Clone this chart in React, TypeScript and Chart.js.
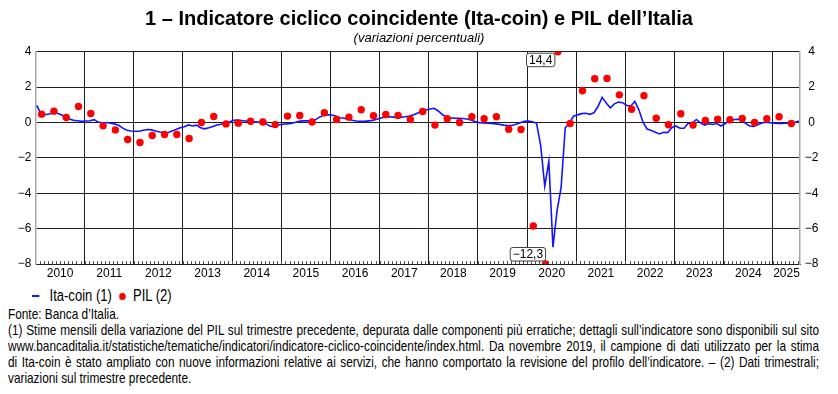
import React, { useEffect, useRef } from 'react';
import { Chart, registerables } from 'chart.js';

Chart.register(...registerables);

const FONT = '"Liberation Sans", Arial, sans-serif';
const NARROW_SCALE = 0.815;

const TITLE = '1 – Indicatore ciclico coincidente (Ita-coin) e PIL dell’Italia';
const SUBTITLE = '(variazioni percentuali)';
const SERIES_LABELS = ['Ita-coin (1)', 'PIL (2)'];
const NOTES = [
  'Fonte: Banca d’Italia.',
  '(1) Stime mensili della variazione del PIL sul trimestre precedente, depurata dalle componenti più erratiche; dettagli sull’indicatore sono disponibili sul sito',
  'www.bancaditalia.it/statistiche/tematiche/indicatori/indicatore-ciclico-coincidente/index.html. Da novembre 2019, il campione di dati utilizzato per la stima',
  'di Ita-coin è stato ampliato con nuove informazioni relative ai servizi, che hanno comportato la revisione del profilo dell’indicatore. – (2) Dati trimestrali;',
  'variazioni sul trimestre precedente.',
];

const START_YEAR = 2010;
const X_MIN = 2010;
const X_MAX = 2025.55;
const Y_MIN = -8;
const Y_MAX = 4;
const Y_STEP = 2;
const YEAR_LABELS = [2010, 2011, 2012, 2013, 2014, 2015, 2016, 2017, 2018, 2019, 2020, 2021, 2022, 2023, 2024, 2025];

// Ita-coin, monthly, from January 2010
const ITA_COIN = [
  0.96, 0.5, 0.44, 0.48, 0.52, 0.52, 0.43, 0.32, 0.2, 0.12, 0.1, 0.06, // 2010
  0.08, 0.1, 0.16, 0.02, -0.03, 0.0, -0.04, -0.08, -0.16, -0.32, -0.44, -0.48, // 2011
  -0.5, -0.5, -0.44, -0.4, -0.42, -0.48, -0.54, -0.58, -0.58, -0.48, -0.4, -0.3, // 2012
  -0.24, -0.14, -0.2, -0.15, -0.3, -0.36, -0.3, -0.23, -0.14, -0.1, -0.02, 0.03, // 2013
  0.12, 0.13, 0.11, 0.08, 0.05, 0.04, 0.02, 0.0, -0.08, -0.21, -0.24, -0.14, // 2014
  -0.1, -0.08, -0.05, 0.0, 0.06, 0.09, 0.09, 0.09, 0.15, 0.3, 0.4, 0.43, // 2015
  0.42, 0.36, 0.27, 0.24, 0.19, 0.13, 0.08, 0.06, 0.06, 0.09, 0.12, 0.18, // 2016
  0.25, 0.3, 0.32, 0.3, 0.28, 0.3, 0.32, 0.36, 0.43, 0.53, 0.63, 0.7, // 2017
  0.76, 0.8, 0.65, 0.45, 0.3, 0.26, 0.24, 0.23, 0.22, 0.2, 0.14, 0.05, // 2018
  -0.01, -0.03, -0.04, -0.06, -0.08, -0.11, -0.15, -0.18, -0.17, -0.1, -0.02, 0.06, // 2019
  0.08, 0.04, -0.05, -1.3, -3.6, -2.2, -7.05, -5.0, -3.65, -0.3, -0.05, 0.35, // 2020
  0.43, 0.5, 0.52, 0.46, 0.55, 0.9, 1.42, 1.1, 0.83, 1.05, 1.15, 1.12, // 2021
  0.96, 0.93, 1.19, 0.7, 0.0, -0.37, -0.46, -0.55, -0.65, -0.55, -0.57, -0.3, // 2022
  -0.2, -0.33, -0.33, -0.05, -0.05, 0.17, -0.02, -0.15, -0.07, -0.11, -0.06, -0.2, // 2023
  -0.07, 0.1, 0.15, 0.18, 0.17, -0.05, -0.2, -0.22, -0.13, -0.03, 0.01, -0.01, // 2024
  -0.04, -0.06, -0.06, -0.03, -0.05, 0.0, 0.08, // 2025
];

// PIL, quarterly, from 2010 Q1
const PIL = [
  0.47, 0.64, 0.28, 0.9, // 2010
  0.51, -0.19, -0.42, -0.96, // 2011
  -1.13, -0.74, -0.68, -0.68, // 2012
  -0.91, 0.0, 0.34, -0.08, // 2013
  -0.04, 0.07, 0.03, -0.12, // 2014
  0.36, 0.39, 0.03, 0.55, // 2015
  0.17, 0.3, 0.72, 0.38, // 2016
  0.45, 0.4, 0.17, 0.62, // 2017
  -0.15, 0.21, 0.0, 0.32, // 2018
  0.21, 0.32, -0.38, -0.4, // 2019
  -5.85, -12.3, 14.4, -0.06, // 2020
  1.79, 2.47, 2.49, 1.56, // 2021
  0.75, 1.51, 0.24, -0.13, // 2022
  0.49, -0.15, 0.11, 0.19, // 2023
  0.15, 0.23, 0.0, 0.21, // 2024
  0.32, -0.06, // 2025
];

const BLUE = '#1414ff';
const RED = '#ff0000';
const GRID = '#1e1e1e';
const EDGE = '#a8a8a8';

const monthX = (i: number) => START_YEAR + (i + 0.3) / 12;
const quarterX = (i: number) => START_YEAR + (3 * i + 1.5) / 12;
const clampY = (v: number) => Math.max(Y_MIN, Math.min(Y_MAX, v));
const fmtNum = (v: number) => v.toFixed(1).replace('.', ',').replace('-', '\u2212');
const fmtTick = (v: number) => String(v).replace('-', '\u2212');
const isWhole = (v: number) => Math.abs(v - Math.round(v)) < 1e-6;

const minorTicks = {
  id: 'minorTicks',
  afterDatasetsDraw(chart: any) {
    const { ctx, chartArea } = chart;
    const x = chart.scales.x;
    ctx.save();
    ctx.strokeStyle = '#555';
    ctx.lineWidth = 1;
    const n = Math.floor((X_MAX - X_MIN) * 12);
    for (let m = 1; m <= n; m++) {
      const px = Math.round(x.getPixelForValue(X_MIN + m / 12)) + 0.5;
      ctx.beginPath();
      ctx.moveTo(px, chartArea.bottom);
      ctx.lineTo(px, chartArea.bottom - 3);
      ctx.stroke();
    }
    ctx.restore();
  },
};

const outOfRange = {
  id: 'outOfRange',
  afterDatasetsDraw(chart: any) {
    const { ctx, chartArea } = chart;
    const x = chart.scales.x;
    ctx.save();
    ctx.font = `12px ${FONT}`;
    ctx.textAlign = 'center';
    ctx.textBaseline = 'middle';
    PIL.forEach((v, i) => {
      if (v <= Y_MAX && v >= Y_MIN) return;
      const px = x.getPixelForValue(quarterX(i));
      const text = fmtNum(v);
      const w = ctx.measureText(text).width + 5;
      const h = 13.5;
      let left: number;
      let top: number;
      if (v > Y_MAX) {
        left = px - 3 - w;
        top = chartArea.top + 1.5;
      } else {
        left = px - w;
        top = chartArea.bottom - 3 - h;
      }
      ctx.beginPath();
      if ((ctx as any).roundRect) (ctx as any).roundRect(left, top, w, h, 2.5);
      else ctx.rect(left, top, w, h);
      ctx.fillStyle = '#fff';
      ctx.fill();
      ctx.strokeStyle = '#444';
      ctx.lineWidth = 1;
      ctx.stroke();
      ctx.fillStyle = '#000';
      ctx.fillText(text, left + w / 2, top + h / 2 + 0.5);
    });
    ctx.restore();
  },
};

export default function App() {
  const ref = useRef<HTMLCanvasElement | null>(null);

  useEffect(() => {
    if (!ref.current) return;
    const xTicks: number[] = [];
    YEAR_LABELS.forEach((yr) => {
      if (yr + 1 <= X_MAX) xTicks.push(yr + 0.5);
      else xTicks.push((yr + X_MAX) / 2);
      if (yr + 1 < X_MAX) xTicks.push(yr + 1);
    });
    xTicks.sort((a, b) => a - b);

    const chart = new Chart(ref.current, {
      type: 'scatter',
      data: {
        datasets: [
          {
            type: 'line',
            label: SERIES_LABELS[0],
            data: ITA_COIN.map((v, i) => ({ x: monthX(i), y: v })),
            borderColor: BLUE,
            backgroundColor: BLUE,
            borderWidth: 1.6,
            pointRadius: 0,
            tension: 0,
            fill: false,
            clip: 0,
            order: 2,
          } as any,
          {
            type: 'scatter',
            label: SERIES_LABELS[1],
            data: PIL.map((v, i) => ({ x: quarterX(i), y: clampY(v) })),
            backgroundColor: RED,
            borderColor: RED,
            borderWidth: 0,
            pointRadius: 3.7,
            clip: 0,
            order: 1,
          } as any,
        ],
      },
      options: {
        animation: false,
        responsive: false,
        devicePixelRatio: 1,
        layout: { padding: 0, autoPadding: false } as any,
        plugins: {
          legend: { display: false },
          tooltip: { enabled: false },
          title: {
            display: true,
            text: TITLE,
            color: '#000',
            font: { family: FONT, size: 20, weight: 'bold', lineHeight: 1.2 },
            padding: { top: 7, bottom: 0 },
          },
          subtitle: {
            display: true,
            text: SUBTITLE,
            color: '#000',
            font: { family: FONT, size: 13, style: 'italic', lineHeight: 1.2 },
            padding: { top: 0, bottom: 5.1 },
          },
        },
        scales: {
          x: {
            type: 'linear',
            min: X_MIN,
            max: X_MAX,
            afterBuildTicks: (s: any) => {
              s.ticks = xTicks.map((value) => ({ value }));
            },
            afterFit: (s: any) => {
              s.height = 21;
            },
            grid: {
              color: (c: any) => (c.tick && isWhole(c.tick.value) ? GRID : 'rgba(0,0,0,0)'),
              lineWidth: 1,
              drawTicks: false,
            },
            border: { display: true, color: GRID, width: 1 },
            ticks: {
              autoSkip: false,
              maxRotation: 0,
              minRotation: 0,
              padding: 2,
              color: '#000',
              font: { family: FONT, size: 12 },
              callback: (v: any) => (isWhole(Number(v)) ? '' : String(Math.floor(Number(v)))),
            },
          },
          y: {
            type: 'linear',
            position: 'left',
            min: Y_MIN,
            max: Y_MAX,
            afterFit: (s: any) => {
              s.width = 35.5;
            },
            grid: { color: GRID, lineWidth: 1, drawTicks: false },
            border: { display: true, color: EDGE, width: 1.5 },
            ticks: {
              stepSize: Y_STEP,
              padding: 4,
              color: '#000',
              font: { family: FONT, size: 12 },
              callback: (v: any) => fmtTick(Number(v)),
            },
          },
          y2: {
            type: 'linear',
            position: 'right',
            min: Y_MIN,
            max: Y_MAX,
            afterFit: (s: any) => {
              s.width = 38;
            },
            grid: { drawOnChartArea: false, drawTicks: false },
            border: { display: true, color: EDGE, width: 1.5 },
            ticks: {
              stepSize: Y_STEP,
              padding: 4.8,
              crossAlign: 'center',
              color: '#000',
              font: { family: FONT, size: 12 },
              callback: (v: any) => fmtTick(Number(v)),
            },
          },
        } as any,
      },
      plugins: [minorTicks, outOfRange],
    });
    return () => chart.destroy();
  }, []);

  const textWidth = 811;

  return (
    <div
      style={{
        position: 'absolute',
        left: 0,
        top: 0,
        width: 838,
        height: 394,
        background: '#fff',
        overflow: 'hidden',
      }}
    >
      <canvas ref={ref} width={838} height={285} style={{ position: 'absolute', left: 0, top: 0, width: 838, height: 285 }} />
      <div
        style={{
          position: 'absolute',
          left: 32,
          top: 288,
          height: 16,
          display: 'flex',
          alignItems: 'center',
          fontFamily: FONT,
          fontSize: 16,
          color: '#000',
          whiteSpace: 'nowrap',
          transform: `scaleX(${NARROW_SCALE})`,
          transformOrigin: 'left top',
        }}
      >
        <span style={{ display: 'inline-block', width: 8.5, height: 2, background: BLUE, marginRight: 13 }} />
        <span>{SERIES_LABELS[0]}</span>
        <span
          style={{
            display: 'inline-block',
            width: 8.5,
            height: 7,
            borderRadius: '50%',
            background: RED,
            margin: '0 8.5px 0 9px',
          }}
        />
        <span>{SERIES_LABELS[1]}</span>
      </div>
      <div
        style={{
          position: 'absolute',
          left: 8,
          top: 306,
          width: textWidth / NARROW_SCALE,
          fontFamily: FONT,
          fontSize: 14.5,
          lineHeight: '16px',
          color: '#000',
          transform: `scaleX(${NARROW_SCALE})`,
          transformOrigin: 'left top',
        }}
      >
        {NOTES.map((t, i) => (
          <div
            key={i}
            style={{
              textAlign: 'justify',
              textAlignLast: i >= 1 && i <= 3 ? 'justify' : 'left',
            }}
          >
            {t}
          </div>
        ))}
      </div>
    </div>
  );
}
